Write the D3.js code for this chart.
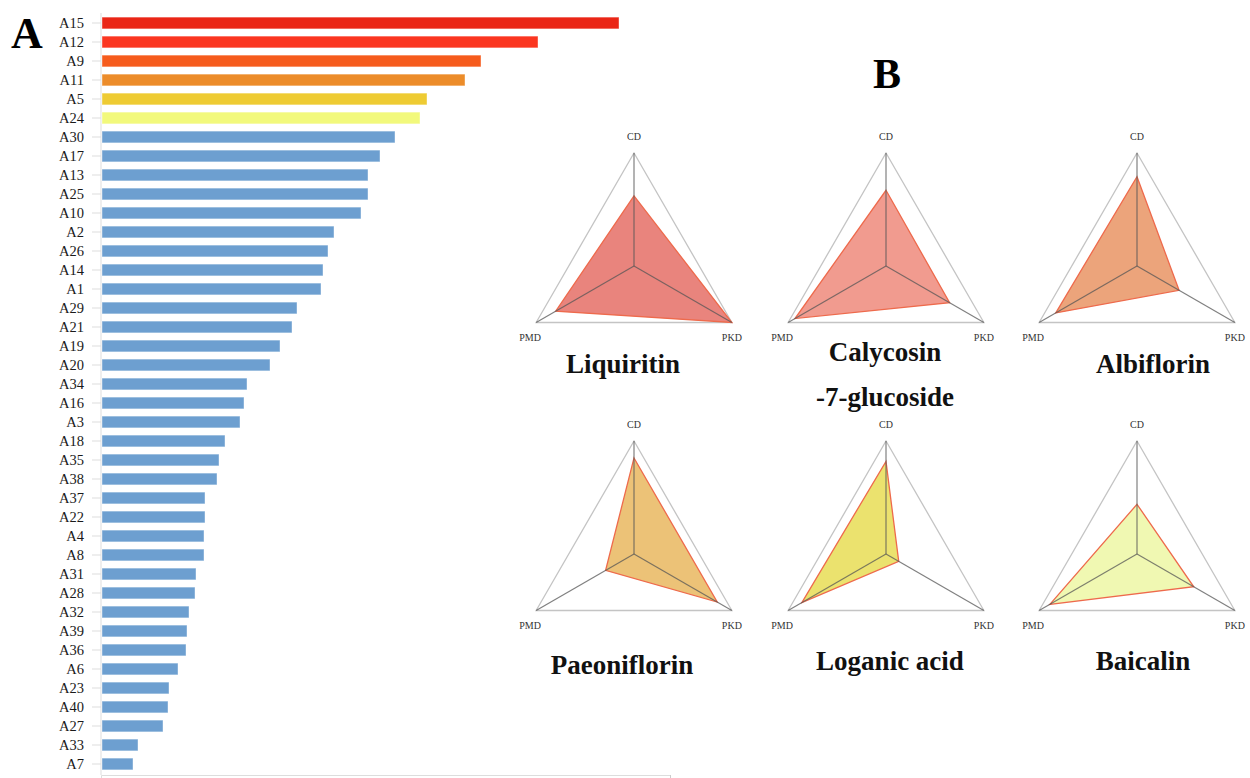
<!DOCTYPE html>
<html>
<head>
<meta charset="utf-8">
<script src="https://cdn.jsdelivr.net/npm/d3@7"></script>
<style>
  body { margin: 0; background: #fff; }
  text { font-family: "Liberation Serif", "Times New Roman", serif; }
</style>
</head>
<body>
<svg id="chart" width="1250" height="778"></svg>
<script>
// panel A: compound scores (sorted)
var compounds = ['A15','A12','A9','A11','A5','A24','A30','A17','A13','A25','A10','A2','A26','A14','A1',
  'A29','A21','A19','A20','A34','A16','A3','A18','A35','A38','A37','A22','A4','A8','A31','A28','A32',
  'A39','A36','A6','A23','A40','A27','A33','A7'];
var scores = [518, 437, 380, 364, 326, 319, 294, 279, 267, 267, 260, 233, 227, 222, 220,
  196, 191, 179, 169, 146, 143, 139, 124, 118, 116, 104, 104, 103, 103, 95, 94, 88,
  86, 85, 77, 68, 67, 62, 37, 32];
var scoreMax = 569;

// panel B: radar values per compound
var radarAxes = ['CD', 'PKD', 'PMD'];
var radarNames = ['Liquiritin', 'Calycosin', 'Albiflorin', 'Paeoniflorin', 'Loganic acid', 'Baicalin'];
var radarCD  = [0.62, 0.67, 0.79, 0.85, 0.82, 0.44];
var radarPKD = [1.00, 0.65, 0.43, 0.85, 0.13, 0.58];
var radarPMD = [0.80, 0.93, 0.83, 0.29, 0.86, 0.89];

var topColors = ['#ea2616', '#fb3620', '#f65b1c', '#ec8c2a', '#eecb33', '#f2f97c'];
var baseColor = '#6d9fd0';
var radarFills = ['#e56f66', '#ee8a7b', '#e99464', '#e9b75f', '#e8dd55', '#edf7a5'];

var svg = d3.select('#chart');

// ---------- A: horizontal bars ----------
var x = d3.scaleLinear().domain([0, scoreMax]).range([101, 670]);
var y = d3.scaleBand().domain(compounds).range([13.5, 773.5])
    .paddingInner(0.38).paddingOuter(0.19);

var yAxis = svg.append('g')
    .attr('transform', 'translate(101,0)')
    .call(d3.axisLeft(y).tickSize(9).tickPadding(8));
yAxis.select('.domain').attr('stroke', '#ddd').attr('d', 'M0,13V775');
yAxis.selectAll('.tick line').attr('stroke', '#ddd');
yAxis.selectAll('.tick text')
    .style('font-family', '"Liberation Serif", serif')
    .style('font-size', '14.5px')
    .attr('fill', '#1a1a1a');

var xAxis = svg.append('g')
    .attr('transform', 'translate(0,775)')
    .call(d3.axisBottom(x).tickValues([scoreMax]).tickSize(5).tickFormat(''));
xAxis.select('.domain').attr('stroke', '#ddd');
xAxis.selectAll('.tick line').attr('stroke', '#ccc');

svg.append('g').selectAll('rect')
    .data(compounds)
    .enter().append('rect')
    .attr('x', x(0) + 1)
    .attr('y', function(d){ return y(d); })
    .attr('height', y.bandwidth())
    .attr('width', function(d, i){ return x(scores[i]) - x(0) - 1; })
    .attr('fill', function(d, i){ return i < topColors.length ? topColors[i] : baseColor; })
    .attr('stroke', 'rgba(255,255,255,0.5)')
    .attr('stroke-width', 0.8);

svg.append('text').attr('x', 11).attr('y', 48)
    .style('font-size', '44px').style('font-weight', 'bold').text('A');

// ---------- B: radar panels ----------
svg.append('text').attr('x', 887).attr('y', 88).attr('text-anchor', 'middle')
    .style('font-size', '42px').style('font-weight', 'bold').text('B');

var colX = [634, 886, 1137];
var rowY = [266, 554];
var r = d3.scaleLinear().domain([0, 1]).range([0, 113]);
var angle = d3.scalePoint().domain(radarAxes).range([0, 2 * Math.PI * 2 / 3]);

var radial = d3.lineRadial()
    .angle(function(d){ return angle(d.axis); })
    .radius(function(d){ return r(d.value); })
    .curve(d3.curveLinearClosed);

function pt(axis, v) {
  var a = angle(axis);
  return [Math.sin(a) * r(v), -Math.cos(a) * r(v)];
}

radarNames.forEach(function(name, i) {
  var g = svg.append('g')
      .attr('transform', 'translate(' + colX[i % 3] + ',' + rowY[Math.floor(i / 3)] + ')');

  g.append('path')
      .attr('d', radial(radarAxes.map(function(a){ return {axis: a, value: 1}; })))
      .attr('fill', 'none').attr('stroke', '#c4c4c4').attr('stroke-width', 1.3);

  var vals = [radarCD[i], radarPKD[i], radarPMD[i]];
  g.append('path')
      .attr('d', radial(radarAxes.map(function(a, k){ return {axis: a, value: vals[k]}; })))
      .attr('fill', radarFills[i]).attr('fill-opacity', 0.85)
      .attr('stroke', '#ee6a4c').attr('stroke-width', 1.3);

  radarAxes.forEach(function(a) {
    var p = pt(a, 1);
    g.append('line').attr('x1', 0).attr('y1', 0).attr('x2', p[0]).attr('y2', p[1])
        .attr('stroke', '#555').attr('stroke-opacity', 0.75).attr('stroke-width', 1.2);
    g.append('text')
        .attr('x', a === 'PMD' ? p[0] - 6 : p[0]).attr('y', a === 'CD' ? p[1] - 13 : p[1] + 18)
        .attr('text-anchor', 'middle')
        .style('font-size', '10px').attr('fill', '#333')
        .text(a);
  });
});

// titles
var titleFont = function(sel){ return sel.attr('text-anchor', 'middle')
    .style('font-size', '27px').style('font-weight', 'bold').attr('fill', '#111'); };
svg.append('text').attr('x', 623).attr('y', 373).call(titleFont).text('Liquiritin');
svg.append('text').attr('x', 885).attr('y', 361).call(titleFont).text('Calycosin');
svg.append('text').attr('x', 885).attr('y', 406).call(titleFont).text('-7-glucoside');
svg.append('text').attr('x', 1153).attr('y', 373).call(titleFont).text('Albiflorin');
svg.append('text').attr('x', 622).attr('y', 674).call(titleFont).text('Paeoniflorin');
svg.append('text').attr('x', 890).attr('y', 670).call(titleFont).text('Loganic acid');
svg.append('text').attr('x', 1143).attr('y', 670).call(titleFont).text('Baicalin');
</script>
</body>
</html>
